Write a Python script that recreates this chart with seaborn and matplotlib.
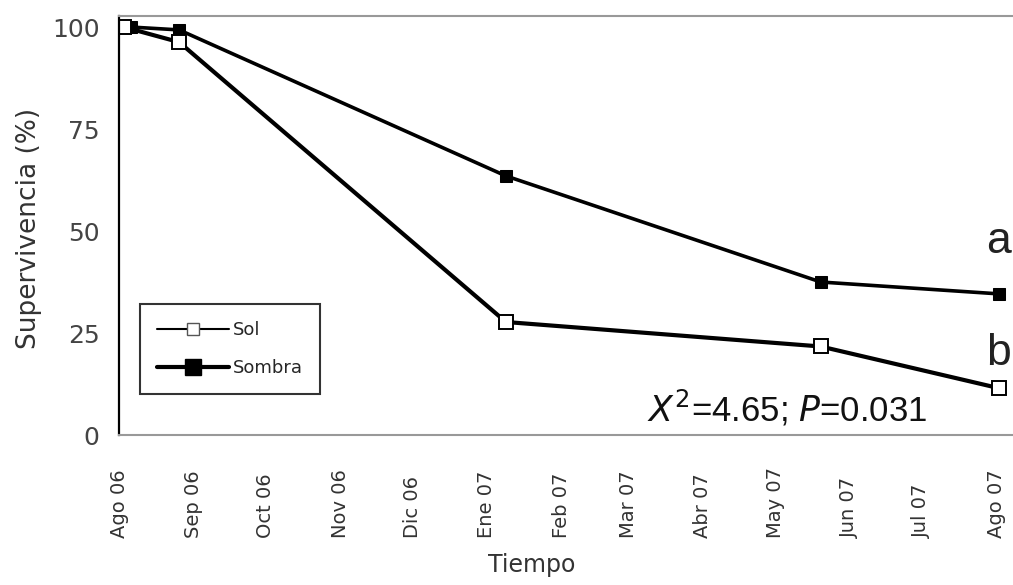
import matplotlib
matplotlib.use("Agg")
import matplotlib.pyplot as plt
from matplotlib.lines import Line2D
import seaborn as sns
import pandas as pd

# Survival (%) of seedlings under sun vs shade
fechas_sol = ["2006-08-03", "2006-08-26", "2007-01-09", "2007-05-20", "2007-08-02"]
superv_sol = [100, 96.3, 27.7, 21.7, 11.5]
fechas_sombra = ["2006-08-06", "2006-08-26", "2007-01-09", "2007-05-20", "2007-08-02"]
superv_sombra = [100, 99.3, 63.5, 37.5, 34.6]

meses = ["Ago 06", "Sep 06", "Oct 06", "Nov 06", "Dic 06", "Ene 07", "Feb 07",
         "Mar 07", "Abr 07", "May 07", "Jun 07", "Jul 07", "Ago 07"]
y_ticks = [0, 25, 50, 75, 100]

df_sol = pd.DataFrame({"fecha": pd.to_datetime(fechas_sol), "superv": superv_sol})
df_sombra = pd.DataFrame({"fecha": pd.to_datetime(fechas_sombra), "superv": superv_sombra})

sns.set_style("white")
plt.rcParams["font.family"] = ["DejaVu Sans"]

fig = plt.figure(figsize=(10.13, 5.85), dpi=100)
ax = fig.add_axes([0.1175, 0.2564, 0.8825, 0.7162])

sns.lineplot(data=df_sombra, x="fecha", y="superv", ax=ax, color="black",
             linewidth=2.6, marker="s", markersize=9, markerfacecolor="black",
             markeredgecolor="black")
sns.lineplot(data=df_sol, x="fecha", y="superv", ax=ax, color="black",
             linewidth=3.0, marker="s", markersize=10, markerfacecolor="white",
             markeredgecolor="black", markeredgewidth=1.4)

ax.set_xlim(pd.Timestamp("2006-08-01"), pd.Timestamp("2007-08-08"))
ax.set_ylim(0, 102.7)

tick_dates = pd.date_range("2006-08-01", "2007-08-01", freq="MS")
ax.set_xticks(tick_dates)
ax.set_xticklabels(meses, rotation=90, fontsize=14, color="#333333")
for lbl in ax.get_xticklabels():
    lbl.set_verticalalignment("bottom")
ax.set_yticks(y_ticks)
ax.set_yticklabels([str(v) for v in y_ticks], fontsize=18, color="#444444")
ax.tick_params(axis="y", length=0, pad=14)
ax.tick_params(axis="x", length=4, direction="out", color="#999999", pad=70)

ax.set_xlabel("Tiempo", fontsize=17, color="#333333")
ax.xaxis.set_label_coords(0.462, -0.282)
ax.set_ylabel("Supervivencia (%)", fontsize=19, color="#333333")
ax.yaxis.set_label_coords(-0.086, 0.494)

for side in ["top", "bottom"]:
    ax.spines[side].set_color("#999999")
    ax.spines[side].set_linewidth(1.5)
ax.spines["left"].set_color("black")
ax.spines["left"].set_linewidth(1.6)
ax.spines["right"].set_visible(False)

# Significance letters and test statistic
ax.text(pd.Timestamp("2007-08-02"), 47.5, "a", fontsize=32, ha="center",
        va="center", color="#222222", family="Liberation Sans")
ax.text(pd.Timestamp("2007-08-02"), 20, "b", fontsize=32, ha="center",
        va="center", color="#222222", family="Liberation Sans")
ax.text(pd.Timestamp("2007-05-06"), 6.5, r"$\mathit{X}^{2}$=4.65; $\mathit{P}$=0.031",
        fontsize=25, ha="center", va="center", color="#111111", family="Liberation Sans")

handles = [
    Line2D([], [], color="black", linewidth=1.5, marker="s", markersize=9,
           markerfacecolor="white", markeredgecolor="#555555"),
    Line2D([], [], color="black", linewidth=3.0, marker="s", markersize=11,
           markerfacecolor="black", markeredgecolor="black"),
]
leg = ax.legend(handles, ["Sol", "Sombra"], loc="upper left",
                bbox_to_anchor=(0.0235, 0.3126), fontsize=13, handlelength=4.0,
                frameon=True, fancybox=False, borderpad=0.95, labelspacing=1.1,
                handletextpad=0.2, borderaxespad=0)
leg.get_frame().set_edgecolor("black")
leg.get_frame().set_linewidth(1.5)

fig.savefig("out.png", dpi=100)
